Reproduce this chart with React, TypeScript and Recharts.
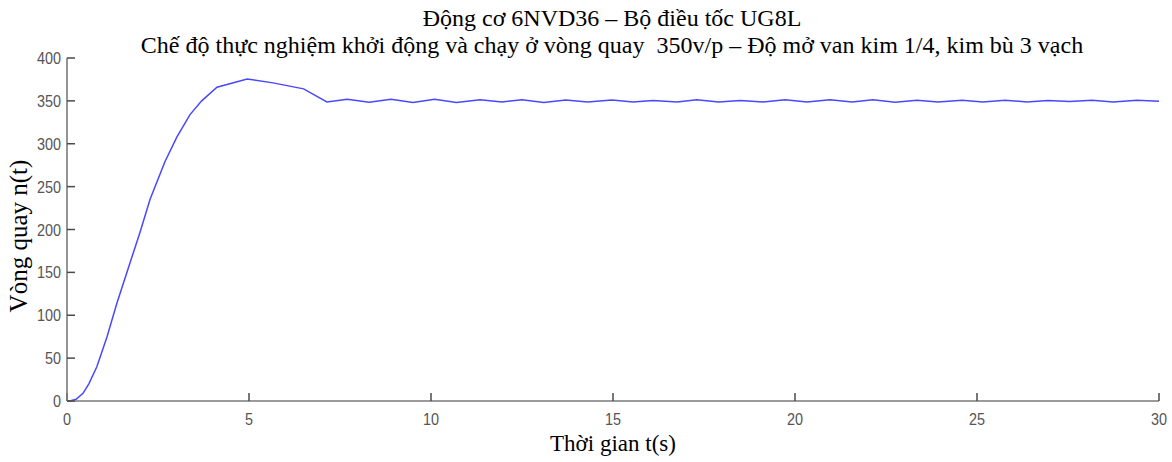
import React from 'react';
import { LineChart, Line, XAxis, YAxis } from 'recharts';

const timeS = [
  0, 0.1, 0.25, 0.44, 0.6, 0.82, 1.1, 1.37, 1.73, 2.0, 2.28, 2.69, 3.02, 3.38, 3.7, 4.12, 4.95, 5.66, 6.5,
  7.14, 7.7, 8.3, 8.9, 9.5, 10.1, 10.7, 11.35, 11.95, 12.5, 13.1, 13.7, 14.3, 14.97, 15.55, 16.1, 16.76,
  17.3, 17.9, 18.5, 19.12, 19.73, 20.33, 20.96, 21.57, 22.14, 22.75, 23.35, 23.93, 24.59, 25.16, 25.77,
  26.37, 26.95, 27.55, 28.16, 28.74, 29.4, 30,
];
const speedN = [
  0, 0.3, 2, 9, 20, 40, 75, 114, 161, 196, 235, 279, 308, 334, 350, 366, 375.5, 371, 364,
  348.7, 352, 348.5, 351.8, 348, 352, 348, 351.3, 348.7, 351.3, 348, 351, 348.7, 351, 348.8, 350.5, 348.7,
  351.3, 348.7, 350.5, 348.7, 351.3, 348.7, 351.3, 348.8, 351.3, 348.3, 350.8, 348.7, 350.8, 348.7, 350.8,
  348.7, 350.4, 349.2, 350.8, 348.7, 350.8, 349.5,
];
const xTicks = [0, 5, 10, 15, 20, 25, 30];
const yTicks = [0, 50, 100, 150, 200, 250, 300, 350, 400];

const titleLine1 = 'Động cơ 6NVD36 – Bộ điều tốc UG8L';
const titleLine2 = 'Chế độ thực nghiệm khởi động và chạy ở vòng quay  350v/p – Độ mở van kim 1/4, kim bù 3 vạch';
const xLabel = 'Thời gian t(s)';
const yLabel = 'Vòng quay n(t)';

const data = timeS.map((t, i) => ({ t, n: speedN[i] }));

const AXIS = '#7a7a7a';
const TICK_TEXT = '#555555';
const TICK_LEN = 8;
const SANS = '"Liberation Sans", Arial, sans-serif';
const SERIF = '"Liberation Serif", "Times New Roman", serif';

const BottomTick = (props: any) => {
  const { x, y, payload } = props;
  return (
    <text
      transform={`translate(${x},${y + 24}) scale(0.9,1)`}
      x={0}
      y={0}
      textAnchor="middle"
      fill={TICK_TEXT}
      fontSize={16}
      fontFamily={SANS}
    >
      {payload.value}
    </text>
  );
};
const LeftTick = (props: any) => {
  const { x, y, payload } = props;
  return (
    <text
      transform={`translate(${x - 6},${y + 6}) scale(0.9,1)`}
      x={0}
      y={0}
      textAnchor="end"
      fill={TICK_TEXT}
      fontSize={16}
      fontFamily={SANS}
    >
      {payload.value}
    </text>
  );
};
const EmptyTick = () => <g />;

const tickLineStyle = { stroke: '#4a4a4a', strokeWidth: 1.5 };
const axisLineStyle = { stroke: AXIS, strokeWidth: 1.6 };

export default function App() {
  return (
    <div style={{ position: 'absolute', left: 0, top: 0, width: 1172, height: 462, background: '#fff' }}>
      <LineChart width={1172} height={462} data={data} margin={{ top: 58, right: 13, left: 0, bottom: 0 }}>
        <XAxis
          dataKey="t"
          type="number"
          domain={[0, 30]}
          ticks={xTicks}
          height={61}
          tickSize={-TICK_LEN}
          tickMargin={TICK_LEN}
          tick={<BottomTick />}
          tickLine={tickLineStyle}
          axisLine={axisLineStyle}
          interval={0}
        />
        <XAxis
          xAxisId="top"
          orientation="top"
          dataKey="t"
          type="number"
          domain={[0, 30]}
          ticks={xTicks}
          height={0}
          tickSize={-TICK_LEN}
          tickMargin={0}
          tick={<EmptyTick />}
          tickLine={tickLineStyle}
          axisLine={axisLineStyle}
          interval={0}
        />
        <YAxis
          type="number"
          domain={[0, 400]}
          ticks={yTicks}
          width={67}
          tickSize={-TICK_LEN}
          tickMargin={TICK_LEN}
          tick={<LeftTick />}
          tickLine={tickLineStyle}
          axisLine={axisLineStyle}
          interval={0}
        />
        <YAxis
          yAxisId="right"
          orientation="right"
          type="number"
          domain={[0, 400]}
          ticks={yTicks}
          width={0}
          tickSize={-TICK_LEN}
          tickMargin={0}
          tick={<EmptyTick />}
          tickLine={tickLineStyle}
          axisLine={axisLineStyle}
          interval={0}
        />
        <Line
          xAxisId="top"
          yAxisId="right"
          type="linear"
          dataKey="n"
          stroke="none"
          strokeOpacity={0}
          dot={false}
          activeDot={false}
          legendType="none"
          isAnimationActive={false}
        />
        <Line
          type="linear"
          dataKey="n"
          stroke="#4848ff"
          strokeWidth={1.5}
          dot={false}
          isAnimationActive={false}
        />
      </LineChart>
      <div style={{ position: 'absolute', left: 0, width: 1224, top: 4, textAlign: 'center', fontFamily: SERIF, fontSize: 24, lineHeight: '28px', color: '#000', whiteSpace: 'pre' }}>
        {titleLine1}
      </div>
      <div style={{ position: 'absolute', left: 0, width: 1224, top: 31, textAlign: 'center', fontFamily: SERIF, fontSize: 24, lineHeight: '28px', color: '#000', whiteSpace: 'pre' }}>
        {titleLine2}
      </div>
      <div style={{ position: 'absolute', left: 0, width: 1226, top: 430, textAlign: 'center', fontFamily: SERIF, fontSize: 23, lineHeight: '28px', color: '#000', whiteSpace: 'pre' }}>
        {xLabel}
      </div>
      <div style={{ position: 'absolute', left: 19, top: 236, width: 0, height: 0 }}>
        <div style={{ position: 'absolute', left: -150, top: -14, width: 300, textAlign: 'center', transform: 'rotate(-90deg)', fontFamily: SERIF, fontSize: 25, lineHeight: '28px', color: '#000', whiteSpace: 'pre' }}>
          {yLabel}
        </div>
      </div>
    </div>
  );
}
